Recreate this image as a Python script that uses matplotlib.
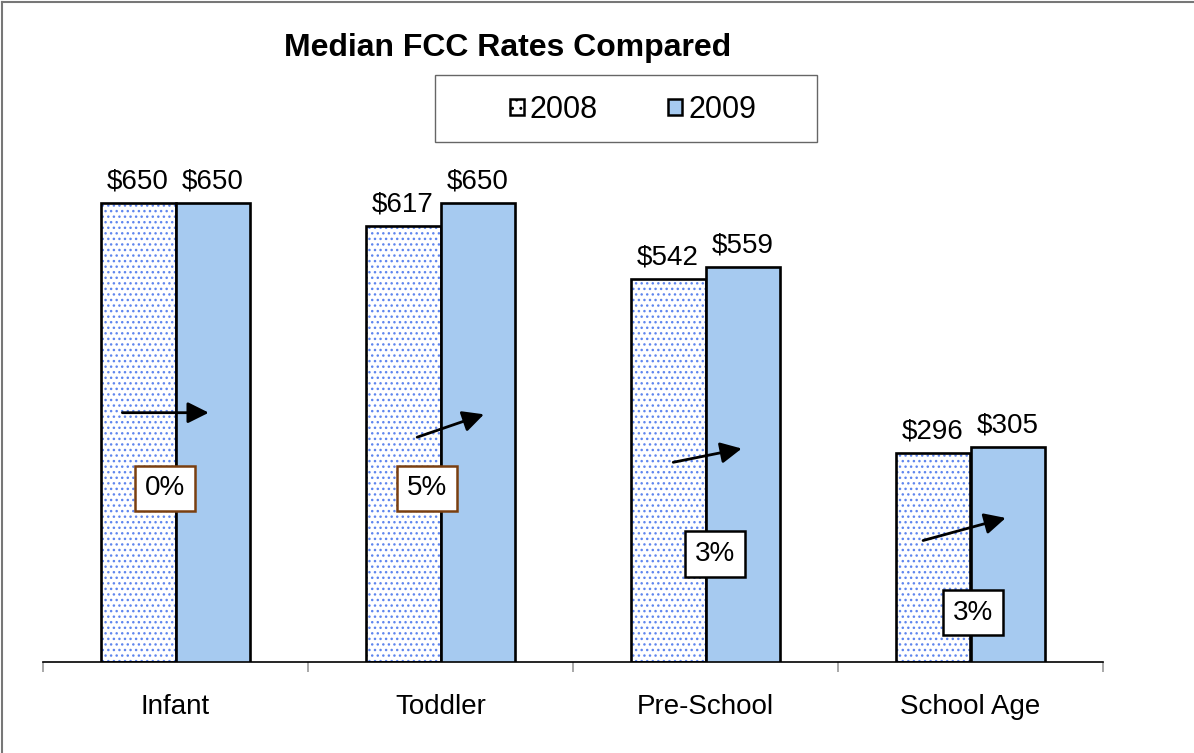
import matplotlib
matplotlib.use('Agg')
import matplotlib.pyplot as plt
import numpy as np
from matplotlib.lines import Line2D
from matplotlib.patches import Rectangle

plt.rcParams['font.family'] = ['Liberation Sans', 'DejaVu Sans']
plt.rcParams['hatch.linewidth'] = 1.0

categories = ['Infant', 'Toddler', 'Pre-School', 'School Age']
rates_2008 = [650, 617, 542, 296]
rates_2009 = [650, 650, 559, 305]
series_names = ['2008', '2009']

# arrow start/end (category offset, rate units) and percent box positions
arrow_x0 = [-0.211, -0.098, -0.132, -0.189]
arrow_x1 = [0.136, 0.174, 0.147, 0.143]
arrow_y0 = [353, 317, 282, 171]
arrow_y1 = [353, 352, 303, 205]
pct_box_y = [246, 246, 153, 70]
pct_box_dx = [-0.04, -0.05, 0.035, 0.01]
pct_edge = ['#7a3f10', '#7a3f10', 'black', 'black']

COLOR_2009 = '#A6CAF0'
DOT_COLOR = '#5F86EE'

fig = plt.figure(figsize=(11.94, 7.53), dpi=100)
W, H = 1194, 753
ax = fig.add_axes([43 / W, 91 / H, (1103 - 43) / W, 565 / H])

x = np.arange(len(categories))
width = 0.283

# 2008: white with blue dots, black outline drawn on top
ax.bar(x - width / 2, rates_2008, width, color='white', edgecolor=DOT_COLOR,
       hatch='...', linewidth=0, zorder=2)
ax.bar(x - width / 2, rates_2008, width, fill=False, edgecolor='black',
       linewidth=1.9, zorder=3)
ax.bar(x + width / 2, rates_2009, width, color=COLOR_2009, edgecolor='black',
       linewidth=1.9, zorder=3)

for i in range(len(categories)):
    ax.text(x[i] - width / 2, rates_2008[i] + 12, f'${rates_2008[i]}',
            ha='center', va='bottom', fontsize=20)
    ax.text(x[i] + width / 2, rates_2009[i] + 12, f'${rates_2009[i]}',
            ha='center', va='bottom', fontsize=20)

    ax.annotate('', xy=(x[i] + arrow_x1[i], arrow_y1[i]),
                xytext=(x[i] + arrow_x0[i], arrow_y0[i]),
                arrowprops=dict(arrowstyle='-|>', color='black', lw=2,
                                mutation_scale=32), zorder=5)

    pct = round((rates_2009[i] - rates_2008[i]) / rates_2008[i] * 100)
    ax.text(x[i] + pct_box_dx[i], pct_box_y[i], f'{pct}%', ha='center',
            va='center', fontsize=20, zorder=6,
            bbox=dict(boxstyle='square,pad=0.35', fc='white',
                      ec=pct_edge[i], lw=1.8))

ax.set_xlim(-0.5, len(categories) - 0.5)
ax.set_ylim(0, 800)
ax.set_yticks([])
for side in ['left', 'right', 'top']:
    ax.spines[side].set_visible(False)
ax.spines['bottom'].set_linewidth(1.2)

ax.set_xticks(np.arange(-0.5, len(categories), 1))
ax.set_xticklabels([])
ax.tick_params(axis='x', length=7, width=1.2, color='#999999', direction='out')
ax.set_xticks(x, minor=True)
ax.set_xticklabels(categories, minor=True, fontsize=20)
ax.tick_params(axis='x', which='minor', length=0, pad=23)

fig.text(508 / W, 1 - 48 / H, 'Median FCC Rates Compared', ha='center',
         va='center', fontsize=23, fontweight='bold')

handles = [
    Rectangle((0, 0), 1, 1, facecolor='white', edgecolor='black',
              hatch='..', linewidth=1.8),
    Rectangle((0, 0), 1, 1, facecolor=COLOR_2009, edgecolor='black',
              linewidth=1.8),
]
fig.legend(handles, series_names, ncol=2, fontsize=22,
           loc='center', bbox_to_anchor=(633 / W, 1 - 110 / H),
           frameon=False, handlelength=0.45, handleheight=0.45,
           handletextpad=0.2, columnspacing=2.3, borderpad=0, borderaxespad=0)
# legend frame, as wide as in the reference
fig.add_artist(Rectangle((435 / W, 1 - 142 / H), 382 / W, 67 / H,
                         transform=fig.transFigure, fill=False,
                         edgecolor='#666666', linewidth=1.0))

# figure border (left and top)
fig.add_artist(Line2D([1.5 / W, 1.5 / W], [0, 1 - 1.5 / H], color='#777777', lw=1.5))
fig.add_artist(Line2D([1.5 / W, 1], [1 - 1.5 / H, 1 - 1.5 / H], color='#777777', lw=1.5))

fig.savefig('out.png', dpi=100)
